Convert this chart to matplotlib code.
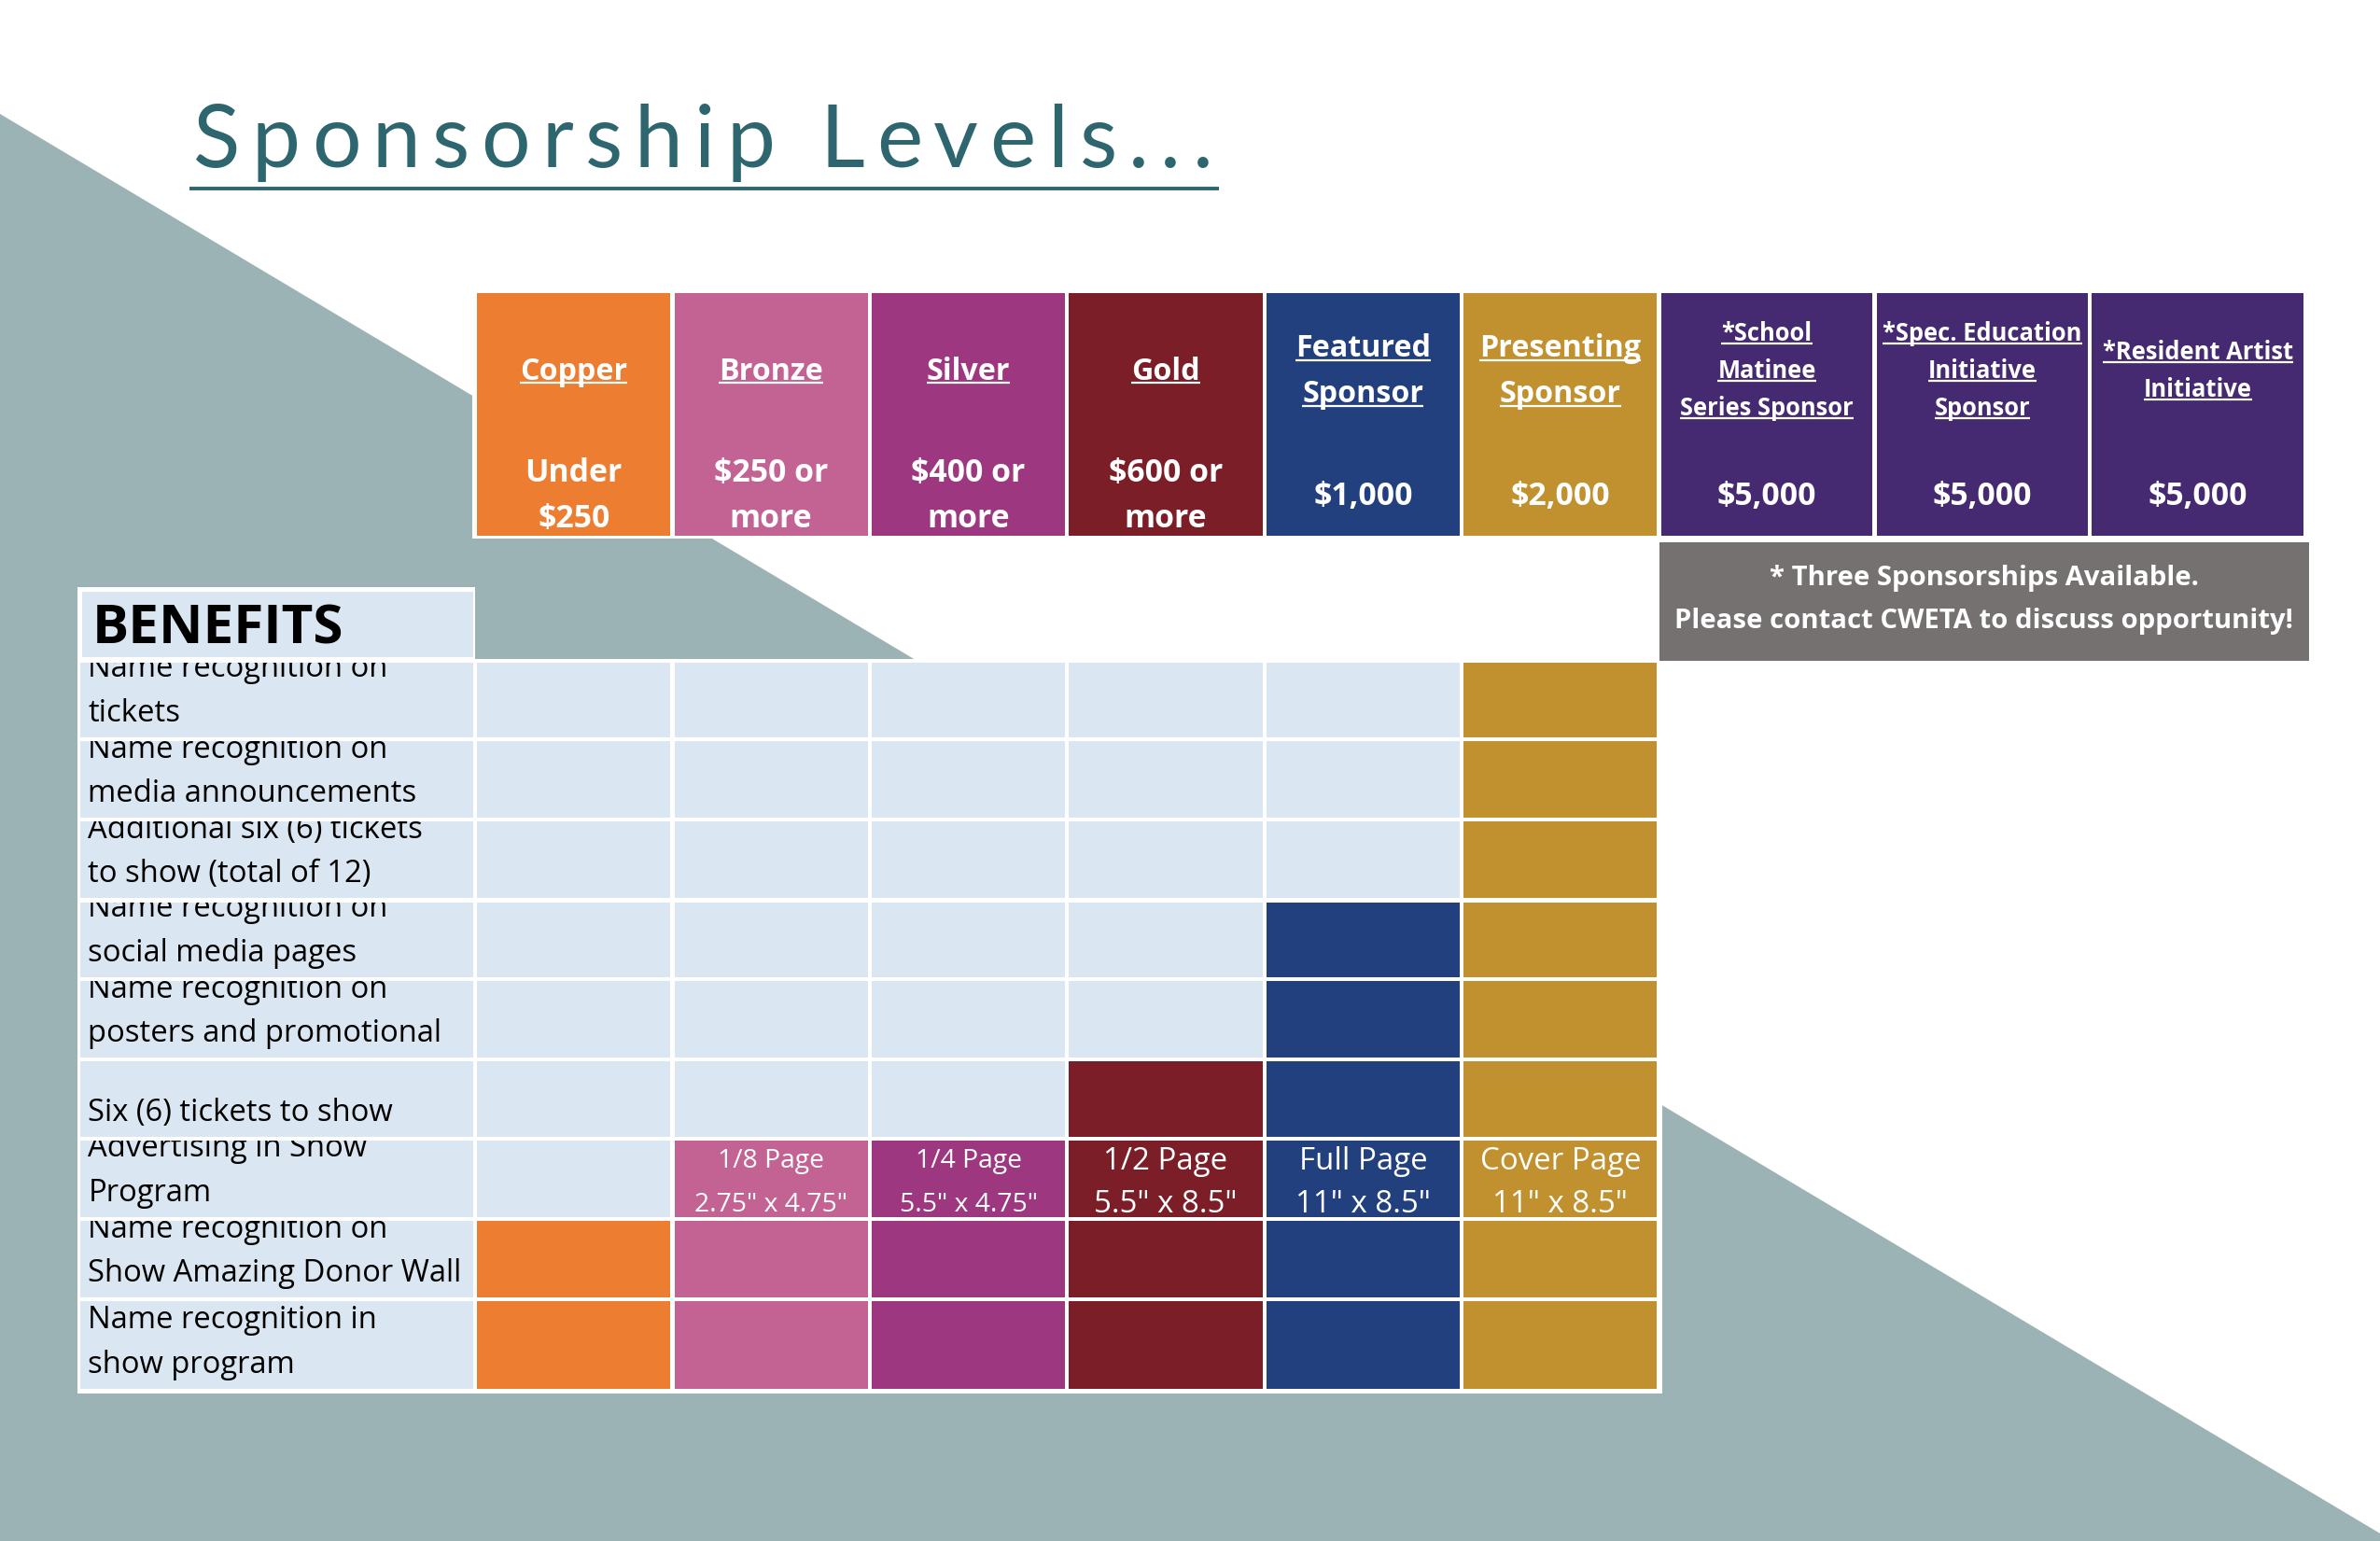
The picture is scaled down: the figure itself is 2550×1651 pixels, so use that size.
import matplotlib
matplotlib.use("Agg")
import matplotlib.pyplot as plt
from matplotlib.patches import Rectangle, Polygon
from matplotlib.transforms import Bbox, TransformedBbox

# ---------------- data ----------------
title = "Sponsorship Levels..."
tier_names = ["Copper", "Bronze", "Silver", "Gold", "Featured\nSponsor", "Presenting\nSponsor"]
tier_prices = ["Under\n$250", "$250 or\nmore", "$400 or\nmore", "$600 or\nmore", "$1,000", "$2,000"]
tier_colors = ["#ED7D31", "#C36394", "#9D3880", "#7B1E28", "#23407E", "#C0912E"]
special_names = ["*School\nMatinee\nSeries Sponsor", "*Spec. Education\nInitiative\nSponsor", "*Resident Artist\nInitiative"]
special_prices = ["$5,000", "$5,000", "$5,000"]
special_color = "#452A72"
note_lines = ["* Three Sponsorships Available.", "Please contact CWETA to discuss opportunity!"]
benefits = [
    "Name recognition on\ntickets",
    "Name recognition on\nmedia announcements",
    "Additional six (6) tickets\nto show (total of 12)",
    "Name recognition on\nsocial media pages",
    "Name recognition on\nposters and promotional",
    "Six (6) tickets to show",
    "Advertising in Show\nProgram",
    "Name recognition on\nShow Amazing Donor Wall",
    "Name recognition in\nshow program",
]
# lowest tier index (0=Copper ... 5=Presenting) that receives each benefit
min_tier = [5, 5, 5, 4, 4, 3, 1, 0, 0]
ad_sizes = ["", "1/8 Page\n2.75\" x 4.75\"", "1/4 Page\n5.5\" x 4.75\"", "1/2 Page\n5.5\" x 8.5\"",
            "Full Page\n11\" x 8.5\"", "Cover Page\n11\" x 8.5\""]
ad_row = 6

# ---------------- styling / layout ----------------
W, H = 1568, 1015
SCALE = 2550 / W
PT = SCALE * 72 / 100          # points per layout unit
FONT = "Open Sans"
LIGHT = "#DAE6F1"
BG = "#9CB3B5"
TEAL = "#2E6670"

fig = plt.figure(figsize=(25.5, 16.51), dpi=100)
ax = fig.add_axes([0, 0, 1, 1])
ax.set_xlim(0, W)
ax.set_ylim(H, 0)
ax.axis("off")
renderer = fig.canvas.get_renderer()

def em(size):
    return size / PT

def width_of(s, **kw):
    t = ax.text(0, 0, s, **kw)
    bb = t.get_window_extent(renderer)
    t.remove()
    return bb.width / SCALE

def line_text(x, yc, s, size, underline=False, color="white", weight="normal", ha="center", clip=None):
    yb = yc + 0.36 * em(size)
    t = ax.text(x, yb, s, fontsize=size, color=color, fontweight=weight, family=FONT,
                ha=ha, va="baseline", zorder=5)
    if clip is not None:
        t.set_clip_box(TransformedBbox(Bbox.from_extents(*clip), ax.transData))
        t.set_clip_on(True)
    if underline:
        bb = t.get_window_extent(renderer)
        x0 = bb.x0 / SCALE
        x1 = bb.x1 / SCALE
        ax.plot([x0, x1], [yb + 0.11 * em(size)] * 2, color=color, lw=1.6, zorder=5,
                solid_capstyle="butt")
    return t

# background diagonal
ax.add_patch(Polygon([(0, 75), (W, 1010), (W, H), (0, H)], closed=True, facecolor=BG,
                     edgecolor="none", zorder=0))

# title with letter spacing
tsize = 67
tkw = dict(fontsize=tsize, family="Lato", fontweight="normal")
natural = width_of(title, **tkw)
target = 672
spacing = (target - natural) / (len(title) - 1)
x0 = 127
for i, ch in enumerate(title):
    if ch == " ":
        continue
    pos = width_of(title[:i + 1], **tkw) - width_of(ch, **tkw)
    ax.text(x0 + pos + i * spacing, 110, ch, color=TEAL, va="baseline", ha="left", zorder=5, **tkw)
ax.plot([125, 803], [124, 124], color=TEAL, lw=2.8, solid_capstyle="butt", zorder=5)

# header
edges = [313, 443, 573, 703, 833, 963, 1093]
sp_edges = [1093, 1235, 1377, 1519]
ax.add_patch(Rectangle((311, 191), 1521 - 311, 355 - 191, facecolor="white", edgecolor="none", zorder=1))
top, bot = 193, 353
g = 1.3
NAME_SZ = 23.2
PRICE_SZ = 24.3
for i, name in enumerate(tier_names):
    xl, xr = edges[i] + g, edges[i + 1] - g
    ax.add_patch(Rectangle((xl, top), xr - xl, bot - top, facecolor=tier_colors[i], edgecolor="none", zorder=2))
    xc = (xl + xr) / 2
    nl = name.split("\n")
    if len(nl) == 1:
        line_text(xc, 243, nl[0], NAME_SZ, underline=True, weight="bold")
    else:
        for k, s in enumerate(nl):
            line_text(xc, 228 + 30 * k, s, NAME_SZ, underline=True, weight="bold")
    pl = tier_prices[i].split("\n")
    if len(pl) == 1:
        line_text(xc, 325, pl[0], PRICE_SZ, weight="bold")
    else:
        for k, s in enumerate(pl):
            line_text(xc, 310 + 30 * k, s, PRICE_SZ, weight="bold")

for i, name in enumerate(special_names):
    xl, xr = sp_edges[i] + g, sp_edges[i + 1] - g
    ax.add_patch(Rectangle((xl, top), xr - xl, bot - top, facecolor=special_color, edgecolor="none", zorder=2))
    xc = (xl + xr) / 2
    nl = name.split("\n")
    y0 = 219 if len(nl) == 3 else 231
    for k, s in enumerate(nl):
        line_text(xc, y0 + 24.5 * k, s, 18.4, underline=True, weight="bold")
    line_text(xc, 325, special_prices[i], PRICE_SZ, weight="bold")

# note box
ax.add_patch(Rectangle((1093, 357), 1521 - 1093, 435 - 357, facecolor="#767171", edgecolor="none", zorder=2))
for k, s in enumerate(note_lines):
    line_text(1307, 379 + 28 * k, s, 21.1, weight="bold")

# BENEFITS box
ax.add_patch(Rectangle((51, 387), 313 - 51, 436 - 387, facecolor="white", edgecolor="none", zorder=1))
ax.add_patch(Rectangle((54, 390), 313 - 54 - 1, 433 - 390, facecolor=LIGHT, edgecolor="none", zorder=2))
line_text(61, 411, "BENEFITS", 42, color="black", weight="bold", ha="left")

# benefits table
rows = [435, 487, 540, 593, 645, 698, 750, 803, 856, 916]
ax.add_patch(Rectangle((51, 434), 1095 - 51, 918 - 434, facecolor="white", edgecolor="none", zorder=1))
for r, label in enumerate(benefits):
    yt, yb = rows[r] + g, rows[r + 1] - g
    cell = Rectangle((53, yt), 313 - g - 53, yb - yt, facecolor=LIGHT, edgecolor="none", zorder=2)
    ax.add_patch(cell)
    ll = label.split("\n")
    bottom_line = rows[r + 1] - 19
    for k, s in enumerate(ll):
        yc = bottom_line - 29.3 * (len(ll) - 1 - k)
        line_text(58, yc, s, 23.6, color="black", ha="left", clip=(53, yt, 313 - g, yb))
    for c in range(6):
        xl, xr = edges[c] + g, edges[c + 1] - g
        col = tier_colors[c] if c >= min_tier[r] else LIGHT
        ax.add_patch(Rectangle((xl, yt), xr - xl, yb - yt, facecolor=col, edgecolor="none", zorder=2))
        if r == ad_row and ad_sizes[c]:
            xc = (xl + xr) / 2
            size = 20.3 if c < 3 else 23.8
            for k, s in enumerate(ad_sizes[c].split("\n")):
                line_text(xc, 763 + 28.5 * k, s, size)

fig.savefig("out.png", dpi=100)
